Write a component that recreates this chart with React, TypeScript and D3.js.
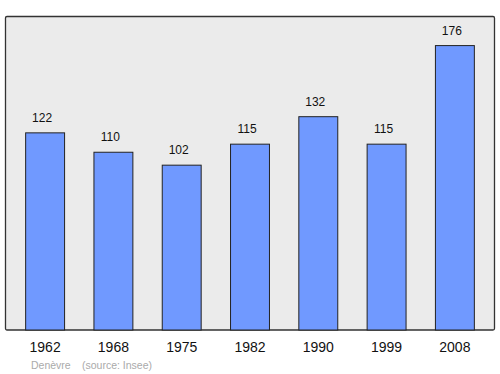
import React from "react";
import * as d3 from "d3";

const years = ["1962", "1968", "1975", "1982", "1990", "1999", "2008"];
const population = [122, 110, 102, 115, 132, 115, 176];
const footerName = "Denèvre";
const footerSource = "(source: Insee)";

export default function App() {
  const W = 500, H = 374;
  const left = 5.5, right = 494.5, top = 16.5, bottom = 330;
  const x = d3.scaleBand<string>().domain(years).range([left, right]).paddingInner(0.43).paddingOuter(0.295);
  const y = d3.scaleLinear().domain([0, 194]).range([bottom, top]);
  const font = "'Liberation Sans', Arial, sans-serif";
  return (
    <svg width={W} height={H} style={{ position: "absolute", left: 0, top: 0 }} fontFamily={font}>
      <rect x={left} y={top} width={right - left} height={bottom - top} fill="#ebebeb" stroke="#333" strokeWidth={1.3} rx={1.5} />
      {years.map((yr, i) => {
        const v = population[i];
        const bx = x(yr)!;
        const bw = x.bandwidth();
        return (
          <g key={yr}>
            <rect x={bx} y={y(v)} width={bw} height={bottom - y(v)} fill="#7099ff" stroke="#222" strokeWidth={1} />
            <text x={bx + bw / 2 - 3} y={y(v) - 11} textAnchor="middle" fontSize={12} fill="#111">{v}</text>
            <text x={bx + bw / 2} y={352} textAnchor="middle" fontSize={14} fill="#111">{yr}</text>
          </g>
        );
      })}
      <text x={31} y={369} fontSize={10.5} fill="#aaa">{footerName}</text>
      <text x={82} y={369} fontSize={10.5} fill="#aaa">{footerSource}</text>
    </svg>
  );
}
